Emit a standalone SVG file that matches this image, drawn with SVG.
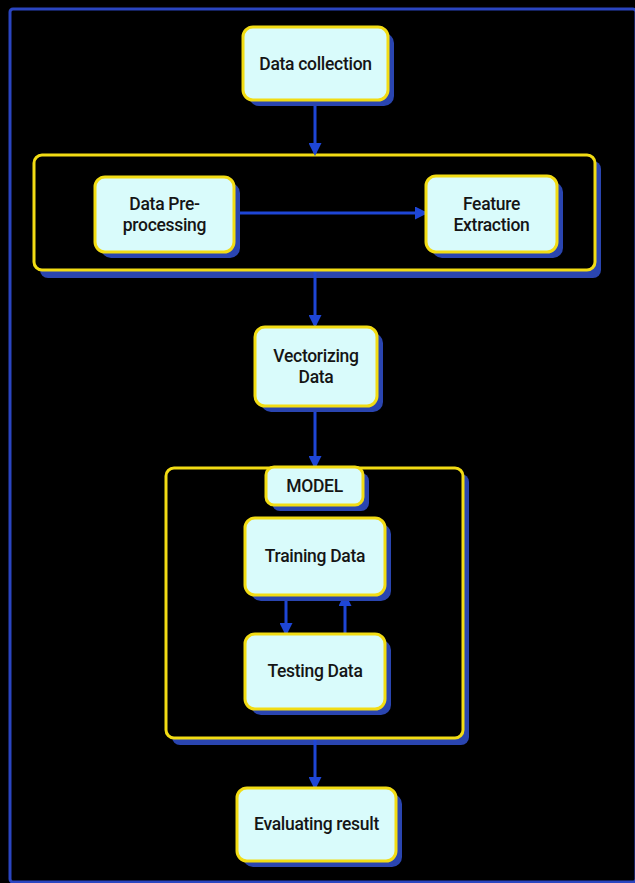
<svg xmlns="http://www.w3.org/2000/svg" width="635" height="883" viewBox="0 0 635 883">
<defs>
<style>
.box{fill:#d9fbfb;stroke:#f2dc14;stroke-width:3}
.grp{fill:#000;stroke:#f2dc14;stroke-width:3}
.sh{fill:#2a45b0}
.lbl{font-family:Roboto,"Liberation Sans",sans-serif;font-size:17.5px;font-weight:500;fill:#151515;text-anchor:middle;letter-spacing:-0.3px}
.cn{stroke:#1e46d6;stroke-width:3;fill:none}
</style>
<marker id="ah" markerWidth="13" markerHeight="13" refX="10" refY="6.5" orient="auto" markerUnits="userSpaceOnUse" viewBox="0 0 13 13">
<path d="M0,0 L13,6.5 L0,13 z" fill="#1e46d6"/>
</marker>
</defs>
<rect x="0" y="0" width="635" height="883" fill="#000"/>
<rect x="10" y="9" width="626" height="873" rx="3" fill="none" stroke="#2a45c0" stroke-width="3"/>

<g id="preprocess-group">
<rect class="sh" x="40" y="161" width="561" height="117" rx="8"/>
<rect class="grp" x="34" y="155" width="561" height="115" rx="8"/>
</g>
<g id="model-group">
<rect class="sh" x="172" y="474" width="297" height="271" rx="8"/>
<rect class="grp" x="166" y="468" width="297" height="270" rx="8"/>
</g>

<g id="connectors">
<line class="cn" x1="315" y1="101" x2="315" y2="153" marker-end="url(#ah)"/>
<line class="cn" x1="235" y1="213" x2="425" y2="213" marker-end="url(#ah)"/>
<line class="cn" x1="315" y1="272" x2="315" y2="325" marker-end="url(#ah)"/>
<line class="cn" x1="315" y1="406" x2="315" y2="466" marker-end="url(#ah)"/>
<line class="cn" x1="286" y1="596" x2="286" y2="633" marker-end="url(#ah)"/>
<line class="cn" x1="345" y1="633" x2="345" y2="596" marker-end="url(#ah)"/>
<line class="cn" x1="315" y1="740" x2="315" y2="787" marker-end="url(#ah)"/>
</g>

<g id="data-collection">
<rect class="sh" x="249" y="33" width="145" height="73" rx="10"/>
<rect class="box" x="243" y="27" width="145" height="73" rx="10"/>
<text class="lbl" x="315.5" y="70">Data collection</text>
</g>
<g id="data-preprocessing">
<rect class="sh" x="101" y="183" width="139" height="75" rx="10"/>
<rect class="box" x="95" y="177" width="139" height="75" rx="10"/>
<text class="lbl" x="164.5" y="210">Data Pre-</text>
<text class="lbl" x="164.5" y="231">processing</text>
</g>
<g id="feature-extraction">
<rect class="sh" x="432" y="182" width="131" height="76" rx="10"/>
<rect class="box" x="426" y="176" width="131" height="76" rx="10"/>
<text class="lbl" x="491.5" y="210">Feature</text>
<text class="lbl" x="491.5" y="231">Extraction</text>
</g>
<g id="vectorizing-data">
<rect class="sh" x="261" y="333" width="122" height="79" rx="10"/>
<rect class="box" x="255" y="327" width="122" height="79" rx="10"/>
<text class="lbl" x="316" y="362">Vectorizing</text>
<text class="lbl" x="316" y="383">Data</text>
</g>
<g id="model-label">
<rect class="sh" x="272" y="473" width="97" height="38" rx="8"/>
<rect class="box" x="266" y="467" width="97" height="38" rx="8"/>
<text class="lbl" x="314.5" y="492">MODEL</text>
</g>
<g id="training-data">
<rect class="sh" x="251" y="524" width="140" height="77" rx="10"/>
<rect class="box" x="245" y="518" width="140" height="77" rx="10"/>
<text class="lbl" x="315" y="562">Training Data</text>
</g>
<g id="testing-data">
<rect class="sh" x="251" y="640" width="140" height="75" rx="10"/>
<rect class="box" x="245" y="634" width="140" height="75" rx="10"/>
<text class="lbl" x="315" y="677">Testing Data</text>
</g>
<g id="evaluating-result">
<rect class="sh" x="243" y="794" width="159" height="73" rx="10"/>
<rect class="box" x="237" y="788" width="159" height="73" rx="10"/>
<text class="lbl" x="316.5" y="830">Evaluating result</text>
</g>
</svg>
